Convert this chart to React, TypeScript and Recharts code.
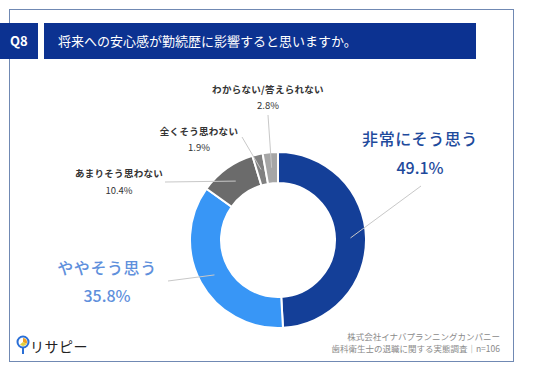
import { PieChart, Pie, Cell } from "recharts";

const categories = ["非常にそう思う", "ややそう思う", "あまりそう思わない", "全くそう思わない", "わからない/答えられない"];
const values = [49.1, 35.8, 10.4, 1.9, 2.8];
const valueLabels = ["49.1%", "35.8%", "10.4%", "1.9%", "2.8%"];

const COLORS = ["#143f98", "#3896f6", "#6b6b6b", "#808080", "#a6a6a6"];
const TEXT_COLORS = ["#1e4a9c", "#5f90dc", "#333", "#333", "#333"];
const BIG = [true, true, false, false, false];
// label layout relative to pie center: [lineEndX, lineEndY, textX, nameY, pctY]
const LABEL_POS = [
  [143, -54, 142, -102, -73],
  [-110, 41, -171, 27, 55],
  [-113, -58, -159, -67, -50],
  [-36, -103, -79, -109, -93],
  [-10, -125, -10, -151, -135],
];

const data = categories.map((name, i) => ({ name, value: values[i], pct: valueLabels[i] }));

const RAD = Math.PI / 180;
const FONT = "'Noto Sans CJK JP', 'Noto Sans', sans-serif";

function renderLabel(props: any) {
  const { cx, cy, midAngle, innerRadius, outerRadius, index } = props;
  const r = (innerRadius + outerRadius) / 2;
  const sx = cx + r * Math.cos(-midAngle * RAD);
  const sy = cy + r * Math.sin(-midAngle * RAD);
  const [lx, ly, tx, ny, py] = LABEL_POS[index];
  const big = BIG[index];
  return (
    <g>
      <line x1={sx} y1={sy} x2={cx + lx} y2={cy + ly} stroke="#c8c8c8" strokeWidth={1} />
      <text x={cx + tx} y={cy + ny} textAnchor="middle" dominantBaseline="central" fill={TEXT_COLORS[index]}
        fontSize={big ? 16 : 9.5} fontWeight={big ? 500 : 700} letterSpacing={big ? 0.6 : 0.3} fontFamily={FONT}>
        {data[index].name}
      </text>
      <text x={cx + tx} y={cy + py} textAnchor="middle" dominantBaseline="central" fill={TEXT_COLORS[index]}
        fontSize={big ? 16 : 9.5} fontWeight={big ? 500 : 400} fontFamily={FONT}>
        {data[index].pct}
      </text>
    </g>
  );
}

export default function App() {
  return (
    <div style={{ position: "absolute", left: 0, top: 0, width: 536, height: 371, background: "#fff", fontFamily: FONT, overflow: "hidden" }}>
      <div style={{ position: "absolute", left: 9, top: 9, width: 503, height: 351, border: "1.5px solid #7089b3" }} />
      <div style={{ position: "absolute", left: 0, top: 23, width: 38, height: 36, background: "#0c3291", color: "#fff", fontSize: 13, fontWeight: 700, lineHeight: "36px", paddingLeft: 10, boxSizing: "border-box" }}>
        Q8
      </div>
      <div style={{ position: "absolute", left: 44, top: 23, width: 432, height: 36, background: "#0c3291", color: "#fff", fontSize: 13, lineHeight: "36px", paddingLeft: 14, boxSizing: "border-box" }}>
        将来への安心感が勤続歴に影響すると思いますか。
      </div>
      <div style={{ position: "absolute", left: 0, top: 0 }}>
        <PieChart width={536} height={371} margin={{ top: 0, right: 0, bottom: 0, left: 0 }}>
          <Pie data={data} dataKey="value" nameKey="name" cx={278} cy={240} innerRadius={57} outerRadius={88}
            startAngle={90} endAngle={-270} stroke="#fff" strokeWidth={2} label={renderLabel} labelLine={false}
            isAnimationActive={false}>
            {data.map((d, i) => <Cell key={d.name} fill={COLORS[i]} />)}
          </Pie>
        </PieChart>
      </div>
      <svg style={{ position: "absolute", left: 16, top: 335 }} width={16} height={22}>
        <circle cx={7} cy={7} r={5.5} fill="#fff" stroke="#2a6fd6" strokeWidth={2} />
        <path d="M7 7 L7 3 A4 4 0 0 1 10.5 9 Z" fill="#f0a020" />
        <path d="M7 7 L10.5 9 A4 4 0 0 1 4 9.5 Z" fill="#e0d040" />
        <line x1={7} y1={12.5} x2={7} y2={19} stroke="#2a6fd6" strokeWidth={2} />
      </svg>
      <div style={{ position: "absolute", left: 30, top: 337, fontSize: 14, color: "#222", letterSpacing: 0.5, lineHeight: "18px" }}>
        リサピー
      </div>
      <div style={{ position: "absolute", right: 36, top: 330, textAlign: "right", fontSize: 8.5, color: "#8a8a8a", lineHeight: "12px" }}>
        <div>株式会社イナバプランニングカンパニー</div>
        <div>歯科衛生士の退職に関する実態調査｜n=106</div>
      </div>
    </div>
  );
}
